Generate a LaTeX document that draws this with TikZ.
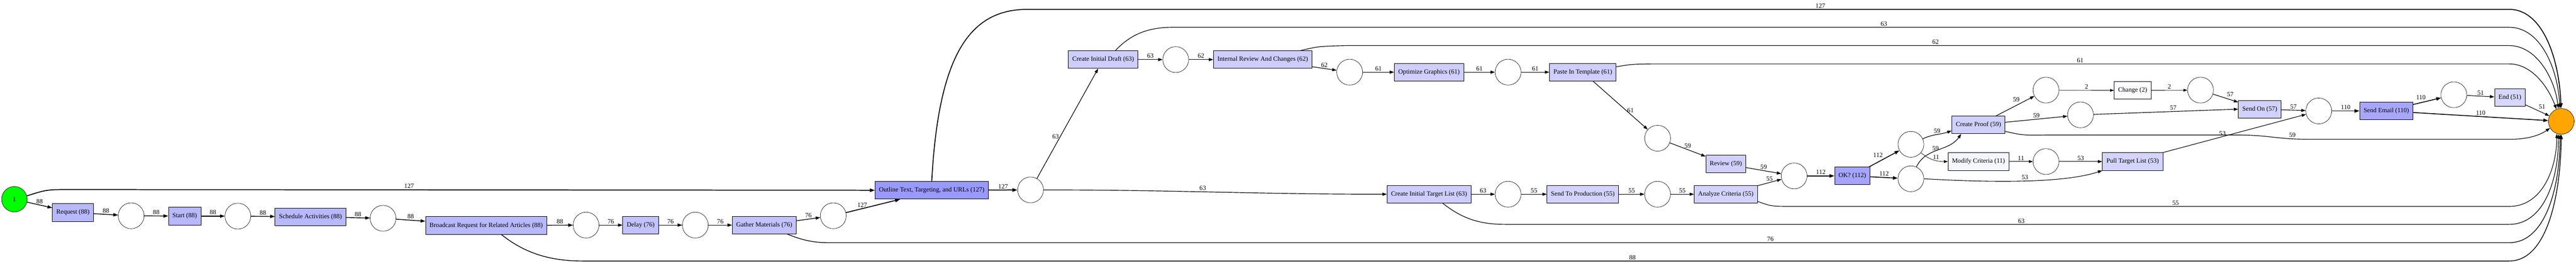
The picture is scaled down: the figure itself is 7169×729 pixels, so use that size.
\documentclass[tikz,border=0pt]{standalone}
\usepackage{fontspec}
\setmainfont{Liberation Serif}
\usetikzlibrary{arrows.meta}
\definecolor{sinkorange}{HTML}{FFA500}

\begin{document}
\begin{tikzpicture}[x=1pt,y=1pt]
	\tikzset{
		every node/.style={font=\fontsize{18}{20}\selectfont},
		place/.style={circle,draw,line width=0.9pt,minimum size=72pt,inner sep=0pt},
		src/.style={circle,draw,line width=0.9pt,fill=green,minimum size=71pt,inner sep=0pt},
		sink/.style={circle,draw,line width=0.9pt,fill=sinkorange,minimum size=72pt,inner sep=0pt},
		act/.style={rectangle,draw,line width=1.2pt,fill=blue!#1!white,minimum height=49pt,inner xsep=11pt,inner ysep=0pt},
		flow/.style={draw,line width={0.9pt+1.6pt*#1/127},-{Triangle[length=9pt 2,width=6pt 1.5]}},
		lbl/.style={inner sep=3pt}
	}
	\useasboundingbox (0,0) rectangle (7169,-729);
	\node[src] (start) at (40,-555) {1};
	\node[act=27.7] (req) at (203,-592) {Request (88)};
	\node[place] (p1) at (365,-601) {};
	\node[act=27.7] (st) at (514,-602) {Start (88)};
	\node[place] (p2) at (662,-602) {};
	\node[act=27.7] (sched) at (864,-604) {Schedule Activities (88)};
	\node[place] (p3) at (1066,-608) {};
	\node[act=27.7] (bcast) at (1353,-628) {Broadcast Request for Related Articles (88)};
	\node[place] (p4) at (1631,-627) {};
	\node[act=23.9] (delay) at (1783,-627) {Delay (76)};
	\node[place] (p5) at (1935,-627) {};
	\node[act=23.9] (gath) at (2127,-627) {Gather Materials (76)};
	\node[place] (p6) at (2319,-601) {};
	\node[act=40] (outl) at (2593,-530) {Outline Text, Targeting, and URLs (127)};
	\node[place] (p7) at (2868,-529) {};
	\node[act=19.8] (draft) at (3070,-166) {Create Initial Draft (63)};
	\node[place] (p8) at (3272,-166) {};
	\node[act=19.5] (intrev) at (3514,-166) {Internal Review And Changes (62)};
	\node[place] (p9) at (3756,-201) {};
	\node[act=19.2] (optim) at (3977,-201) {Optimize Graphics (61)};
	\node[place] (p10) at (4197,-201) {};
	\node[act=19.2] (paste) at (4405,-201) {Paste In Template (61)};
	\node[place] (p11) at (4613,-385) {};
	\node[act=18.6] (review) at (4803,-457) {Review (59)};
	\node[act=19.8] (tlist) at (3977,-541) {Create Initial Target List (63)};
	\node[place] (p12) at (4197,-541) {};
	\node[act=17.3] (sendprod) at (4405,-541) {Send To Production (55)};
	\node[place] (p13) at (4613,-541) {};
	\node[act=17.3] (analyze) at (4803,-541) {Analyze Criteria (55)};
	\node[place] (p14) at (4993,-490) {};
	\node[act=35.3] (ok) at (5155,-490) {OK? (112)};
	\node[place] (p15) at (5318,-402) {};
	\node[place] (p16) at (5318,-498) {};
	\node[act=18.6] (proof) at (5506,-348) {Create Proof (59)};
	\node[act=3.5] (modify) at (5506,-450) {Modify Criteria (11)};
	\node[place] (p17) at (5694,-450) {};
	\node[act=16.7] (pull) at (5935,-450) {Pull Target List (53)};
	\node[place] (p18) at (5694,-251) {};
	\node[act=0.6] (change) at (5935,-252) {Change (2)};
	\node[place] (p19) at (5790,-320) {};
	\node[place] (p20) at (6124,-251) {};
	\node[act=18] (sendon) at (6289,-304) {Send On (57)};
	\node[place] (p21) at (6453,-309) {};
	\node[act=34.6] (email) at (6641,-309) {Send Email (110)};
	\node[place] (p22) at (6829,-264) {};
	\node[act=16.1] (endact) at (6985,-272) {End (51)};
	\node[sink] (finish) at (7128,-338) {};
	\draw[flow=88] (start) -- node[lbl,above]{88} (req);
	\draw[flow=127] (start.15) .. controls (130,-528) .. (200,-528) -- node[lbl,above,pos=0.42]{127} (outl.west);
	\draw[flow=88] (req) -- node[lbl,above]{88} (p1);
	\draw[flow=88] (p1) -- node[lbl,above]{88} (st);
	\draw[flow=88] (st) -- node[lbl,above]{88} (p2);
	\draw[flow=88] (p2) -- node[lbl,above]{88} (sched);
	\draw[flow=88] (sched) -- node[lbl,above]{88} (p3);
	\draw[flow=88] (p3) -- node[lbl,above]{88} (bcast);
	\draw[flow=88] (bcast) -- node[lbl,above]{88} (p4);
	\draw[flow=76] (p4) -- node[lbl,above]{76} (delay);
	\draw[flow=76] (delay) -- node[lbl,above]{76} (p5);
	\draw[flow=76] (p5) -- node[lbl,above]{76} (gath);
	\draw[flow=76] (gath) -- node[lbl,above]{76} (p6);
	\draw[flow=127] (p6) -- node[lbl,above,pos=0.3]{127} ([xshift=-88pt]outl.south);
	\draw[flow=127] (outl) -- node[lbl,above]{127} (p7);
	\draw[flow=63] (p7) -- node[lbl,left,pos=0.38]{63} ([xshift=-14pt]draft.south);
	\draw[flow=63] (draft) -- node[lbl,above]{63} (p8);
	\draw[flow=62] (p8) -- node[lbl,above]{62} (intrev);
	\draw[flow=62] (intrev) -- node[lbl,above]{62} (p9);
	\draw[flow=61] (p9) -- node[lbl,above]{61} (optim);
	\draw[flow=61] (optim) -- node[lbl,above]{61} (p10);
	\draw[flow=61] (p10) -- node[lbl,above]{61} (paste);
	\draw[flow=61] (paste) -- node[lbl,right,pos=0.6]{61} (p11);
	\draw[flow=59] (p11) -- node[lbl,above]{59} (review);
	\draw[flow=63] (p7.east) to[out=0,in=180] node[lbl,above,pos=0.46]{63} (tlist.west);
	\draw[flow=63] (tlist) -- node[lbl,above]{63} (p12);
	\draw[flow=55] (p12) -- node[lbl,above]{55} (sendprod);
	\draw[flow=55] (sendprod) -- node[lbl,above]{55} (p13);
	\draw[flow=55] (p13) -- node[lbl,above]{55} (analyze);
	\draw[flow=59] (review) -- node[lbl,above]{59} (p14);
	\draw[flow=55] (analyze) -- node[lbl,above]{55} (p14);
	\draw[flow=112] (p14) -- node[lbl,above]{112} (ok);
	\draw[flow=112] (ok) -- node[lbl,above left]{112} (p15);
	\draw[flow=112] (ok) -- node[lbl,above]{112} (p16);
	\draw[flow=59] (p15) to[out=25,in=200] node[lbl,above]{59} ([yshift=-16pt]proof.west);
	\draw[flow=59] (p16) to[out=65,in=235] node[lbl,left,pos=0.55]{59} ([xshift=-48pt]proof.south);
	\draw[flow=11] (p15) to[out=-40,in=180] node[lbl,above,pos=0.6]{11} (modify.west);
	\draw[flow=11] (modify) -- node[lbl,above]{11} (p17);
	\draw[flow=53] (p17) -- node[lbl,above]{53} (pull);
	\draw[flow=53] (p16.east) .. controls (5600,-512) and (5760,-505) .. node[lbl,above,pos=0.45]{53} (pull.south west);
	\draw[flow=59] (proof) -- node[lbl,above left,pos=0.65]{59} (p18);
	\draw[flow=59] (proof) -- node[lbl,above]{59} (p19);
	\draw[flow=2] (p18) -- node[lbl,above]{2} (change);
	\draw[flow=2] (change) -- node[lbl,above]{2} (p20);
	\draw[flow=57] (p20) -- node[lbl,above right]{57} (sendon);
	\draw[flow=57] (p19) -- node[lbl,above,pos=0.55]{57} (sendon.west);
	\draw[flow=57] (sendon) -- node[lbl,above]{57} (p21);
	\draw[flow=53] (pull.north east) -- node[lbl,above left,pos=0.44,inner sep=0pt]{53} (p21);
	\draw[flow=110] (p21) -- node[lbl,above]{110} (email);
	\draw[flow=110] (email) -- node[lbl,above left]{110} (p22);
	\draw[flow=51] (p22) -- node[lbl,above]{51} (endact);
	\draw[flow=51] (endact) -- node[lbl,above right]{51} (finish);
	\draw[flow=110] (email) -- node[lbl,above]{110} (finish);
	\draw[flow=127] (outl.north) .. controls (2612,-150) and (2700,-26) .. (2860,-26) -- node[lbl,above,pos=0.535]{127} (6983,-26) .. controls (7075,-26) and (7122,-160) .. (finish.91);
	\draw[flow=63] ([xshift=34pt]draft.north) .. controls (3150,-92) and (3200,-76) .. (3265,-76) -- node[lbl,above,pos=0.532]{63} (6983,-76) .. controls (7070,-76) and (7118,-190) .. (finish.96);
	\draw[flow=62] ([xshift=105pt]intrev.north) .. controls (3670,-129) .. (3745,-127) -- node[lbl,above,pos=0.507]{62} (6983,-127) .. controls (7060,-127) and (7110,-220) .. (finish.103);
	\draw[flow=61] ([yshift=15pt]paste.east) .. controls (4540,-179) .. (4595,-178) -- node[lbl,above,pos=0.5]{61} (6983,-178) .. controls (7050,-178) and (7095,-250) .. (finish.112);
	\draw[flow=59] ([yshift=-18pt]proof.east) .. controls (5630,-377) .. (5700,-376) -- (6220,-376) .. controls (6320,-376) and (6330,-388) .. node[lbl,above,pos=0.8]{59} (6430,-388) -- (6983,-388) .. controls (7040,-388) and (7070,-375) .. (finish.211);
	\draw[flow=55] ([yshift=-20pt]analyze.east) .. controls (4930,-575) .. (4991,-575) -- node[lbl,above,pos=0.534]{55} (6983,-575) .. controls (7075,-575) and (7115,-470) .. (finish.250);
	\draw[flow=63] ([xshift=38pt]tlist.south) .. controls (4070,-610) and (4120,-625) .. (4189,-625) -- node[lbl,above,pos=0.514]{63} (6983,-625) .. controls (7080,-625) and (7120,-500) .. (finish.258);
	\draw[flow=76] ([xshift=64pt]gath.south) .. controls (2240,-672) and (2270,-676) .. (2310,-676) -- node[lbl,above,pos=0.56]{76} (6983,-676) .. controls (7085,-676) and (7124,-520) .. (finish.265);
	\draw[flow=88] ([xshift=42pt]bcast.south) .. controls (1460,-705) and (1530,-727) .. (1621,-727) -- node[lbl,above,pos=0.545]{88} (6983,-727) .. controls (7090,-727) and (7126,-540) .. (finish.270);
\end{tikzpicture}
\end{document}
